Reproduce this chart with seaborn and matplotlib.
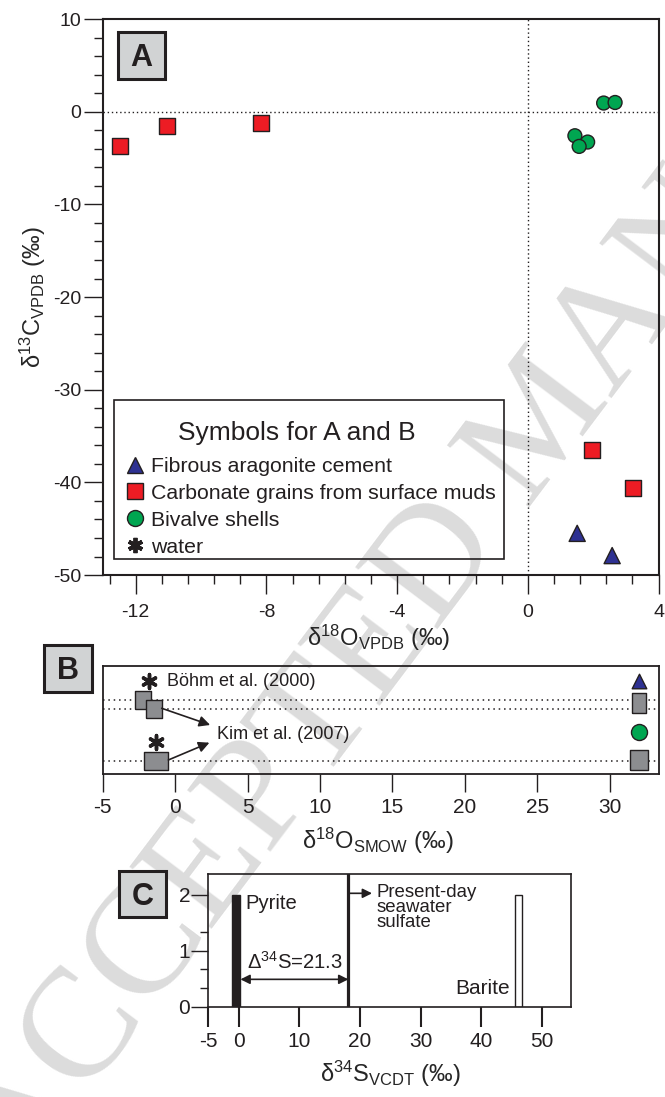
import pandas as pd
import seaborn as sns
import matplotlib.pyplot as plt
from matplotlib import patches
from matplotlib.lines import Line2D
from matplotlib.ticker import MultipleLocator, FixedLocator

# ---- panel A: d18O vs d13C (VPDB)
cement_o = [1.51, 2.58]
cement_c = [-45.5, -47.9]
mud_o = [-12.48, -11.03, -8.17, 1.97, 3.21]
mud_c = [-3.74, -1.58, -1.22, -36.5, -40.6]
shell_o = [2.32, 2.67, 1.44, 1.83, 1.57]
shell_c = [0.94, 1.00, -2.59, -3.27, -3.74]

# ---- panel B: d18O (SMOW), rows are arbitrary heights
b_water_o = [-1.83, -1.32]
b_water_row = [9.36, 3.26]
b_eq_o = [-2.20, -1.45]
b_eq_row = [7.45, 6.55]
b_kim_o = [-1.33]
b_kim_row = [1.36]
b_meas_o = [32.0, 32.0, 32.0, 32.0]
b_meas_row = [9.36, 7.13, 4.26, 1.40]
b_ref_rows = [7.45, 6.55, 1.36]

# ---- panel C: d34S (VCDT) counts
s_values = [-0.4, 46.2]
s_counts = [2, 2]
seawater_s = 18.1
delta_s = 21.3

INK = '#231f20'
RED = '#ed1c24'
NAVY = '#2e3192'
GREEN = '#00a651'
GREY = '#8c8d90'
W, H = 665, 1097

sns.set_theme(style='ticks')
plt.rcParams['font.family'] = ['Liberation Sans', 'DejaVu Sans']
plt.rcParams['mathtext.fontset'] = 'custom'
plt.rcParams['mathtext.rm'] = 'Liberation Sans'
plt.rcParams['mathtext.it'] = 'Liberation Sans:italic'
plt.rcParams['mathtext.bf'] = 'Liberation Sans:bold'
plt.rcParams['axes.unicode_minus'] = False
plt.rcParams['axes.edgecolor'] = INK
plt.rcParams['xtick.color'] = INK
plt.rcParams['ytick.color'] = INK
plt.rcParams['text.color'] = INK

fig = plt.figure(figsize=(6.65, 10.97), dpi=100)
axA = fig.add_axes([0.1550, 0.4758, 0.8353, 0.5068])
axB = fig.add_axes([0.1543, 0.2942, 0.8367, 0.0987])
axC = fig.add_axes([0.3132, 0.0823, 0.5454, 0.1210])
for ax in (axA, axB, axC):
    ax.set_facecolor('none')

# watermark
fig.text(545 / W, 1 - 423 / H, 'ACCEPTED MANUSCRIPT', rotation=53,
         ha='center', va='center', fontsize=113, family='Liberation Serif',
         color='#dcdcdc', zorder=-1)


def panel_tag(letter, x0, y0, x1, y1):
    rect = patches.Rectangle((x0 / W, 1 - y1 / H), (x1 - x0) / W, (y1 - y0) / H,
                             transform=fig.transFigure, facecolor='#d1d3d4',
                             edgecolor=INK, lw=2.2, zorder=5)
    fig.add_artist(rect)
    fig.text((x0 + x1) / 2 / W, 1 - ((y0 + y1) / 2 + 11) / H, letter,
             ha='center', va='baseline', fontsize=22, fontweight='bold', zorder=6)


# ---------------- A
dfA = pd.DataFrame({
    'd18O': cement_o + mud_o + shell_o,
    'd13C': cement_c + mud_c + shell_c,
    'group': ['cement'] * len(cement_o) + ['mud'] * len(mud_o) + ['shell'] * len(shell_o),
})
sns.scatterplot(data=dfA, x='d18O', y='d13C', hue='group', style='group', size='group',
                palette={'cement': NAVY, 'mud': RED, 'shell': GREEN},
                markers={'cement': '^', 'mud': 's', 'shell': 'o'},
                sizes={'cement': 135, 'mud': 133, 'shell': 100},
                edgecolor=INK, linewidth=1, legend=False, ax=axA, zorder=3)
axA.axhline(0, color=INK, ls=(0, (1, 2)), lw=1, zorder=1)
axA.axvline(0, color=INK, ls=(0, (1, 2)), lw=1, zorder=1)
axA.set_xlim(-13, 4)
axA.set_ylim(-50, 10)
axA.xaxis.set_major_locator(MultipleLocator(4))
axA.xaxis.set_minor_locator(MultipleLocator(0.8))
axA.yaxis.set_major_locator(MultipleLocator(10))
axA.yaxis.set_minor_locator(MultipleLocator(2))
axA.tick_params(which='major', direction='out', length=13.5, width=1, labelsize=14)
axA.tick_params(which='minor', direction='out', length=6.5, width=1)
axA.tick_params(axis='y', pad=2)
axA.tick_params(axis='x', pad=7)
for s in axA.spines.values():
    s.set_linewidth(1.5)
axA.set_xlabel(r'δ$^{\mathregular{18}}$O$_{\mathregular{VPDB}}$ (‰)', fontsize=17)
axA.set_ylabel(r'δ$^{\mathregular{13}}$C$_{\mathregular{VPDB}}$ (‰)', fontsize=17)
axA.xaxis.set_label_coords(0.4967, -0.086)
axA.yaxis.set_label_coords(-0.100, 0.5)

# symbol key shared by A and B
handles = [
    Line2D([], [], ls='none', marker='^', ms=11.5, mfc=NAVY, mec=INK, mew=1,
           label='Fibrous aragonite cement'),
    Line2D([], [], ls='none', marker='s', ms=11.5, mfc=RED, mec=INK, mew=1,
           label='Carbonate grains from surface muds'),
    Line2D([], [], ls='none', marker='o', ms=11.5, mfc=GREEN, mec=INK, mew=1,
           label='Bivalve shells'),
    Line2D([], [], ls='none', marker=(6, 2, 0), ms=11, color=INK, mew=2.8,
           label='water'),
]
axA.legend(handles=handles, loc='upper left', bbox_to_anchor=(0.040, 0.2122),
           fontsize=15.3, frameon=False, borderpad=0, borderaxespad=0,
           labelspacing=0.37, handlelength=0.9, handletextpad=0.33)
axA.add_patch(patches.Rectangle((0.019, 0.0282), 0.702, 0.2865, transform=axA.transAxes,
                                facecolor='none', edgecolor=INK, lw=1.2, zorder=4))
axA.text(0.349, 0.256, 'Symbols for A and B', transform=axA.transAxes,
         ha='center', va='center', fontsize=19)
panel_tag('A', 118, 32.3, 164.5, 78.7)

# ---------------- B
for r in b_ref_rows:
    axB.axhline(r, color=INK, ls=(0, (1, 2.5)), lw=1.1, zorder=1)
sq_small = [(-0.9, -1), (0.9, -1), (0.9, 1), (-0.9, 1), (-0.9, -1)]
sq_wide = [(-1, -0.76), (1, -0.76), (1, 0.76), (-1, 0.76), (-1, -0.76)]
sq_tall = [(-0.71, -1), (0.71, -1), (0.71, 1), (-0.71, 1), (-0.71, -1)]
sns.scatterplot(x=b_water_o, y=b_water_row, marker=(6, 2, 0), s=100, color=INK,
                linewidth=2.5, ax=axB, zorder=3)
sns.scatterplot(x=b_eq_o, y=b_eq_row, marker=sq_small, s=177, color=GREY,
                edgecolor=INK, linewidth=1, ax=axB, zorder=3)
sns.scatterplot(x=b_kim_o, y=b_kim_row, marker=sq_wide, s=298, color=GREY,
                edgecolor=INK, linewidth=1, ax=axB, zorder=3)
sns.scatterplot(x=b_meas_o[:1], y=b_meas_row[:1], marker='^', s=110, color=NAVY,
                edgecolor=INK, linewidth=1, ax=axB, zorder=3)
sns.scatterplot(x=b_meas_o[1:2], y=b_meas_row[1:2], marker=sq_tall, s=193, color=GREY,
                edgecolor=INK, linewidth=1, ax=axB, zorder=3)
sns.scatterplot(x=b_meas_o[2:3], y=b_meas_row[2:3], marker='o', s=133, color=GREEN,
                edgecolor=INK, linewidth=1, ax=axB, zorder=3)
sns.scatterplot(x=b_meas_o[3:], y=b_meas_row[3:], marker=sq_small, s=207, color=GREY,
                edgecolor=INK, linewidth=1, ax=axB, zorder=3)
axB.text(-0.57, 9.26, 'Böhm et al. (2000)', va='center', fontsize=13)
axB.text(2.88, 3.93, 'Kim et al. (2007)', va='center', fontsize=13)
arrow = dict(arrowstyle='-|>', color=INK, lw=1.2, mutation_scale=16, shrinkA=0, shrinkB=0)
axB.annotate('', xy=(2.42, 4.93), xytext=(-0.92, 6.6), arrowprops=arrow)
axB.annotate('', xy=(2.37, 3.16), xytext=(-0.46, 1.43), arrowprops=arrow)
axB.set_xlim(-5, 33.4)
axB.set_ylim(0, 10.83)
axB.set_yticks([])
axB.xaxis.set_major_locator(MultipleLocator(5))
axB.tick_params(axis='x', direction='out', length=13, width=1, labelsize=15, pad=4)
for s in axB.spines.values():
    s.set_linewidth(1.3)
axB.set_xlabel(r'δ$^{\mathregular{18}}$O$_{\mathregular{SMOW}}$ (‰)', fontsize=17)
axB.xaxis.set_label_coords(0.495, -0.477)
panel_tag('B', 44.3, 645, 91.7, 691.7)

# ---------------- C
axC.bar(s_values, s_counts, width=[1.37, 1.15], color=[INK, 'white'],
        edgecolor=INK, linewidth=1, zorder=2)
axC.axvline(seawater_s, color=INK, lw=2.3, zorder=2)
axC.annotate('', xy=(seawater_s, 0.49), xytext=(s_values[0] + 0.7, 0.49),
             arrowprops=dict(arrowstyle='<|-|>', color=INK, lw=1.2, mutation_scale=14,
                             shrinkA=0, shrinkB=0))
axC.annotate('', xy=(22.0, 2.03), xytext=(seawater_s + 0.2, 2.03),
             arrowprops=dict(arrowstyle='-|>', color=INK, lw=1.2, mutation_scale=14,
                             shrinkA=0, shrinkB=0))
axC.text(1.1, 1.85, 'Pyrite', va='center', fontsize=14.6)
axC.text(1.38, 0.81, f'Δ$^{{\\mathregular{{34}}}}$S={delta_s}', va='center', fontsize=14.6)
axC.text(22.8, 2.2, 'Present-day\nseawater\nsulfate', va='top', fontsize=13.4,
         linespacing=0.85)
axC.text(44.65, 0.33, 'Barite', ha='right', va='center', fontsize=15)
axC.set_xlim(-5, 54.8)
axC.set_ylim(0, 2.376)
axC.set_xticks([-5, 0, 10, 20, 30, 40, 50])
axC.set_yticks([0, 1, 2])
axC.yaxis.set_minor_locator(FixedLocator([1 / 3, 2 / 3, 4 / 3]))
axC.tick_params(axis='x', direction='out', length=14.4, width=1.5, labelsize=15, pad=4)
axC.tick_params(axis='y', which='major', direction='out', length=12, width=1,
                labelsize=15, pad=1)
axC.tick_params(axis='y', which='minor', direction='out', length=6, width=1)
for s in axC.spines.values():
    s.set_linewidth(1.2)
axC.set_xlabel(r'δ$^{\mathregular{34}}$S$_{\mathregular{VCDT}}$ (‰)', fontsize=17)
axC.xaxis.set_label_coords(0.501, -0.394)
panel_tag('C', 119, 870.7, 166, 917.3)

fig.savefig('out.png', dpi=100)
